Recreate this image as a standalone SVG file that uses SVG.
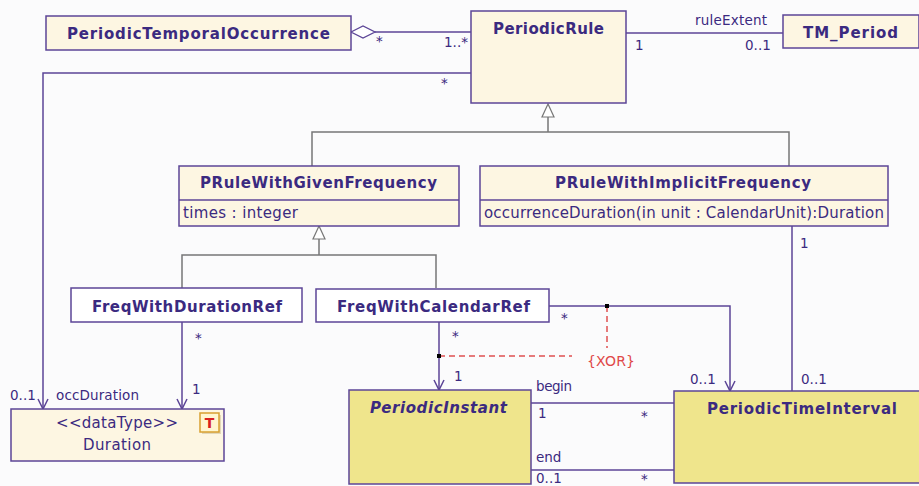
<svg xmlns="http://www.w3.org/2000/svg" width="919" height="486" viewBox="0 0 919 486">
<style>
.bg{fill:#fbfbfc}
.box{fill:#fdf6e2;stroke:#5c4597;stroke-width:1.5}
.kbox{fill:#efe58c;stroke:#5c4597;stroke-width:1.5}
.wbox{fill:#ffffff;stroke:#5c4597;stroke-width:1.5}
.t{font-family:"DejaVu Sans",Verdana,sans-serif;font-weight:bold;font-size:15px;fill:#3b2a80}
.a{font-family:"DejaVu Sans",Verdana,sans-serif;font-size:15px;fill:#3b2a80}
.l{font-family:"DejaVu Sans",Verdana,sans-serif;font-size:13.5px;fill:#3b2a80}
.x{font-family:"DejaVu Sans",Verdana,sans-serif;font-size:14px;fill:#e04848}
.as{fill:none;stroke:#5c4597;stroke-width:1.5}
.gen{fill:none;stroke:#777777;stroke-width:1.5}
.tri{fill:#ffffff;stroke:#777777;stroke-width:1.2}
.dash{fill:none;stroke:#e05050;stroke-width:1.5;stroke-dasharray:6,4}
.dot{fill:#000000}
</style>
<rect class="bg" x="0" y="0" width="919" height="486"/>

<g id="connectors">
  <!-- aggregation -->
  <path class="as" d="M375,32 H471"/>
  <path d="M351,32 L363,26 L375,32 L363,38 Z" fill="#ffffff" stroke="#5c4597" stroke-width="1.3"/>
  <!-- ruleExtent -->
  <path class="as" d="M626,33 H783"/>
  <!-- PeriodicRule to Duration occDuration -->
  <path class="as" d="M471,73 H43 V409"/>
  <path class="as" d="M38,399 L43,409 L48,399"/>
  <!-- generalizations to PeriodicRule -->
  <path class="gen" d="M312,166 V132 H789 V166 M548,132 V117"/>
  <path class="tri" d="M548,104 L542,117 L554,117 Z"/>
  <!-- generalizations to PRuleWithGivenFrequency -->
  <path class="gen" d="M182,288 V255 H436 V288 M319,255 V239"/>
  <path class="tri" d="M319,226 L313,239 L325,239 Z"/>
  <!-- FreqWithDurationRef to Duration -->
  <path class="as" d="M182,322 V409"/>
  <path class="as" d="M177,399 L182,409 L187,399"/>
  <!-- FreqWithCalendarRef to PeriodicInstant -->
  <path class="as" d="M439,322 V390"/>
  <path class="as" d="M434,380 L439,390 L444,380"/>
  <!-- FreqWithCalendarRef to PeriodicTimeInterval -->
  <path class="as" d="M549,306 H730 V391"/>
  <path class="as" d="M725,381 L730,391 L735,381"/>
  <!-- XOR constraint -->
  <path class="dash" d="M439,356 H572"/>
  <path class="dash" d="M607,306 V348"/>
  <rect class="dot" x="437" y="354" width="4" height="4"/>
  <rect class="dot" x="605" y="304" width="4" height="4"/>
  <!-- PRuleWithImplicitFrequency to PeriodicTimeInterval -->
  <path class="as" d="M792,226 V391"/>
  <!-- begin / end -->
  <path class="as" d="M531,403 H674"/>
  <path class="as" d="M531,470 H674"/>

  <!-- labels -->
  <text class="l" x="376" y="46">*</text>
  <text class="l" x="444" y="47">1..*</text>
  <text class="l" x="441" y="88">*</text>
  <text class="l" x="695" y="25" textLength="72">ruleExtent</text>
  <text class="l" x="635" y="50">1</text>
  <text class="l" x="745" y="50">0..1</text>
  <text class="l" x="10" y="400">0..1</text>
  <text class="l" x="56" y="400" textLength="83">occDuration</text>
  <text class="l" x="195" y="343">*</text>
  <text class="l" x="192" y="394">1</text>
  <text class="l" x="452" y="341">*</text>
  <text class="l" x="454" y="381">1</text>
  <text class="l" x="561" y="323">*</text>
  <text class="l" x="690" y="384">0..1</text>
  <text class="l" x="800" y="248">1</text>
  <text class="l" x="801" y="384">0..1</text>
  <text class="l" x="536" y="391" textLength="36">begin</text>
  <text class="l" x="538" y="418">1</text>
  <text class="l" x="641" y="421">*</text>
  <text class="l" x="536" y="462">end</text>
  <text class="l" x="536" y="483">0..1</text>
  <text class="l" x="641" y="484">*</text>
  <text class="x" x="587" y="366" textLength="48">{XOR}</text>
</g>

<g id="PeriodicTemporalOccurrence">
  <rect class="box" x="46" y="16" width="305" height="34"/>
  <text class="t" x="67" y="39" textLength="263">PeriodicTemporalOccurrence</text>
</g>

<g id="PeriodicRule">
  <rect class="box" x="471" y="11" width="155" height="92"/>
  <text class="t" x="493" y="34" textLength="111">PeriodicRule</text>
</g>

<g id="TM_Period">
  <rect class="box" x="783" y="15" width="136" height="33"/>
  <text class="t" x="803" y="38" textLength="95">TM_Period</text>
</g>

<g id="PRuleWithGivenFrequency">
  <rect class="box" x="179" y="166" width="280" height="60"/>
  <line x1="179" y1="200" x2="459" y2="200" stroke="#5c4597" stroke-width="1.5"/>
  <text class="t" x="200" y="188" textLength="237">PRuleWithGivenFrequency</text>
  <text class="a" x="183" y="218" textLength="115">times : integer</text>
</g>

<g id="PRuleWithImplicitFrequency">
  <rect class="box" x="480" y="166" width="408" height="60"/>
  <line x1="480" y1="200" x2="888" y2="200" stroke="#5c4597" stroke-width="1.5"/>
  <text class="t" x="555" y="188" textLength="256">PRuleWithImplicitFrequency</text>
  <text class="a" x="484" y="218" textLength="400">occurrenceDuration(in unit : CalendarUnit):Duration</text>
</g>

<g id="FreqWithDurationRef">
  <rect class="wbox" x="71" y="288" width="231" height="34"/>
  <text class="t" x="92" y="312" textLength="190">FreqWithDurationRef</text>
</g>

<g id="FreqWithCalendarRef">
  <rect class="wbox" x="316" y="289" width="233" height="33"/>
  <text class="t" x="337" y="312" textLength="193">FreqWithCalendarRef</text>
</g>

<g id="Duration">
  <rect class="box" x="11" y="409" width="213" height="52"/>
  <text class="a" x="117" y="428" text-anchor="middle" textLength="122">&lt;&lt;dataType&gt;&gt;</text>
  <text class="a" x="117" y="450" text-anchor="middle" textLength="68">Duration</text>
  <rect x="202" y="415" width="19" height="19" fill="#c8b890" opacity="0.5"/>
  <rect x="200" y="413" width="19" height="19" fill="#fff6d0" stroke="#d8a030" stroke-width="1.5"/>
  <text x="209.5" y="428" text-anchor="middle" font-family="DejaVu Sans,sans-serif" font-weight="bold" font-size="14" fill="#d82020">T</text>
</g>

<g id="PeriodicInstant">
  <rect class="kbox" x="349" y="390" width="182" height="94"/>
  <text class="t" x="370" y="413" font-style="italic" textLength="137">PeriodicInstant</text>
</g>

<g id="PeriodicTimeInterval">
  <rect class="kbox" x="674" y="391" width="250" height="92"/>
  <text class="t" x="707" y="414" textLength="190">PeriodicTimeInterval</text>
</g>
</svg>
